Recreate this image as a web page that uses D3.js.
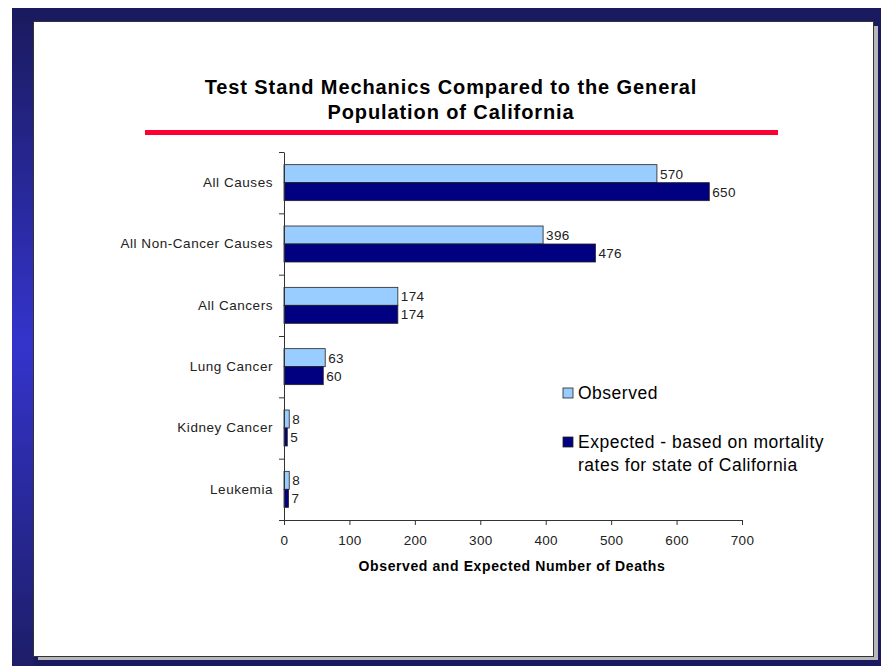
<!DOCTYPE html>
<html>
<head>
<meta charset="utf-8">
<script src="https://cdn.jsdelivr.net/npm/d3@7"></script>
<style>
  html, body { margin: 0; padding: 0; background: #fff; }
  svg { display: block; font-family: "Liberation Sans", Arial, sans-serif; }
</style>
</head>
<body>
<svg id="chart" width="881" height="666"></svg>
<script>
// Causes of death, top to bottom
const categories = ["All Causes", "All Non-Cancer Causes", "All Cancers", "Lung Cancer", "Kidney Cancer", "Leukemia"];
// Observed deaths among test stand mechanics
const observed = [570, 396, 174, 63, 8, 8];
// Expected deaths from California mortality rates
const expected = [650, 476, 174, 60, 5, 7];
const seriesNames = ["Observed", "Expected"];
const xTicks = [0, 100, 200, 300, 400, 500, 600, 700];
const titleLines = ["Test Stand Mechanics Compared to the General", "Population of California"];
const xTitle = "Observed and Expected Number of Deaths";
const legendLabels = [["Observed"], ["Expected - based on mortality", "rates for state of California"]];

const colors = { Observed: "#99ccff", Expected: "#000080" };
const svg = d3.select("#chart");

// ---- slide frame ----
const defs = svg.append("defs");
const grad = defs.append("linearGradient").attr("id", "sideGrad")
  .attr("x1", 0).attr("y1", 0).attr("x2", 0).attr("y2", 1);
grad.append("stop").attr("offset", "0%").attr("stop-color", "#1b1b62");
grad.append("stop").attr("offset", "50%").attr("stop-color", "#3434cc");
grad.append("stop").attr("offset", "100%").attr("stop-color", "#1d1d68");

svg.append("rect").attr("x", 12).attr("y", 8).attr("width", 869).attr("height", 658).attr("fill", "#1a1a60");
svg.append("rect").attr("x", 12).attr("y", 22).attr("width", 22).attr("height", 644).attr("fill", "url(#sideGrad)");
// drop shadow of the slide
svg.append("rect").attr("x", 38).attr("y", 26).attr("width", 840).attr("height", 634).attr("fill", "#b8b8b8");
svg.append("rect").attr("x", 33).attr("y", 21).attr("width", 841).attr("height", 636).attr("fill", "#333");
svg.append("rect").attr("x", 34).attr("y", 22).attr("width", 839).attr("height", 634).attr("fill", "#fff");

// ---- title ----
svg.append("g").selectAll("text").data(titleLines).join("text")
  .attr("x", 451).attr("y", (d, i) => 94 + i * 25)
  .attr("text-anchor", "middle")
  .attr("font-weight", "bold").attr("font-size", 20).attr("letter-spacing", 0.9).attr("fill", "#000")
  .text(d => d);
svg.append("rect").attr("x", 145).attr("y", 130).attr("width", 633).attr("height", 5).attr("fill", "#ff0033");

// ---- scales ----
const x = d3.scaleLinear().domain([0, 700]).range([284, 742]);
const y = d3.scaleBand().domain(categories).range([152, 520]).paddingInner(0.413).paddingOuter(0.2065);
const ySub = d3.scaleBand().domain(seriesNames).range([0, y.bandwidth()]);
const yEdge = d3.scaleLinear().domain([0, categories.length]).range([152, 520]);

const rows = categories.map((c, i) => ({ cat: c, values: [
  { s: "Observed", v: observed[i] },
  { s: "Expected", v: expected[i] }
]}));

// ---- bars ----
const plot = svg.append("g");
const groups = plot.selectAll("g.row").data(rows).join("g").attr("class", "row")
  .attr("transform", d => `translate(0,${y(d.cat)})`);
groups.selectAll("rect").data(d => d.values).join("rect")
  .attr("x", x(0))
  .attr("y", d => ySub(d.s))
  .attr("width", d => x(d.v) - x(0))
  .attr("height", ySub.bandwidth())
  .attr("fill", d => colors[d.s])
  .attr("stroke", "#222").attr("stroke-width", 0.8);
groups.selectAll("text").data(d => d.values).join("text")
  .attr("x", d => x(d.v) + 3)
  .attr("y", d => ySub(d.s) + ySub.bandwidth() / 2)
  .attr("dy", "0.36em")
  .attr("font-size", 13.5).attr("letter-spacing", 0.3).attr("fill", "#222")
  .text(d => d.v);

// ---- axes ----
const yLabels = svg.append("g").attr("transform", `translate(${x(0)},0)`)
  .call(d3.axisLeft(y).tickSize(0).tickPadding(11));
yLabels.select(".domain").remove();
yLabels.selectAll("text").attr("font-size", 13.5).attr("letter-spacing", 0.55).attr("fill", "#222").attr("font-family", null);

const yAxis = svg.append("g").attr("transform", `translate(${x(0)},0)`)
  .call(d3.axisLeft(yEdge).tickValues(d3.range(categories.length + 1)).tickSize(5).tickSizeOuter(0).tickFormat(""));
yAxis.selectAll("path,line").attr("stroke", "#333");

const xAxis = svg.append("g").attr("transform", `translate(0,${yEdge(categories.length)})`)
  .call(d3.axisBottom(x).tickValues(xTicks).tickSize(5).tickSizeOuter(0).tickPadding(10));
xAxis.selectAll("path,line").attr("stroke", "#333");
xAxis.selectAll("text").attr("font-size", 13.5).attr("letter-spacing", 0.3).attr("fill", "#222").attr("font-family", null);

svg.append("text").attr("x", 512).attr("y", 571).attr("text-anchor", "middle")
  .attr("font-weight", "bold").attr("font-size", 14).attr("letter-spacing", 0.6).attr("fill", "#000")
  .text(xTitle);

// ---- legend ----
const legend = svg.append("g").attr("transform", "translate(563,0)");
const legendY = [388, 437];
const items = legend.selectAll("g").data(seriesNames).join("g")
  .attr("transform", (d, i) => `translate(0,${legendY[i]})`);
items.append("rect").attr("width", 10).attr("height", 10)
  .attr("fill", d => colors[d]).attr("stroke", "#222").attr("stroke-width", 0.8);
items.each(function (d, i) {
  d3.select(this).selectAll("text").data(legendLabels[i]).join("text")
    .attr("x", 15).attr("y", (t, j) => 11 + j * 23)
    .attr("font-size", 17.5).attr("letter-spacing", 0.5).attr("fill", "#000")
    .text(t => t);
});
</script>
</body>
</html>
